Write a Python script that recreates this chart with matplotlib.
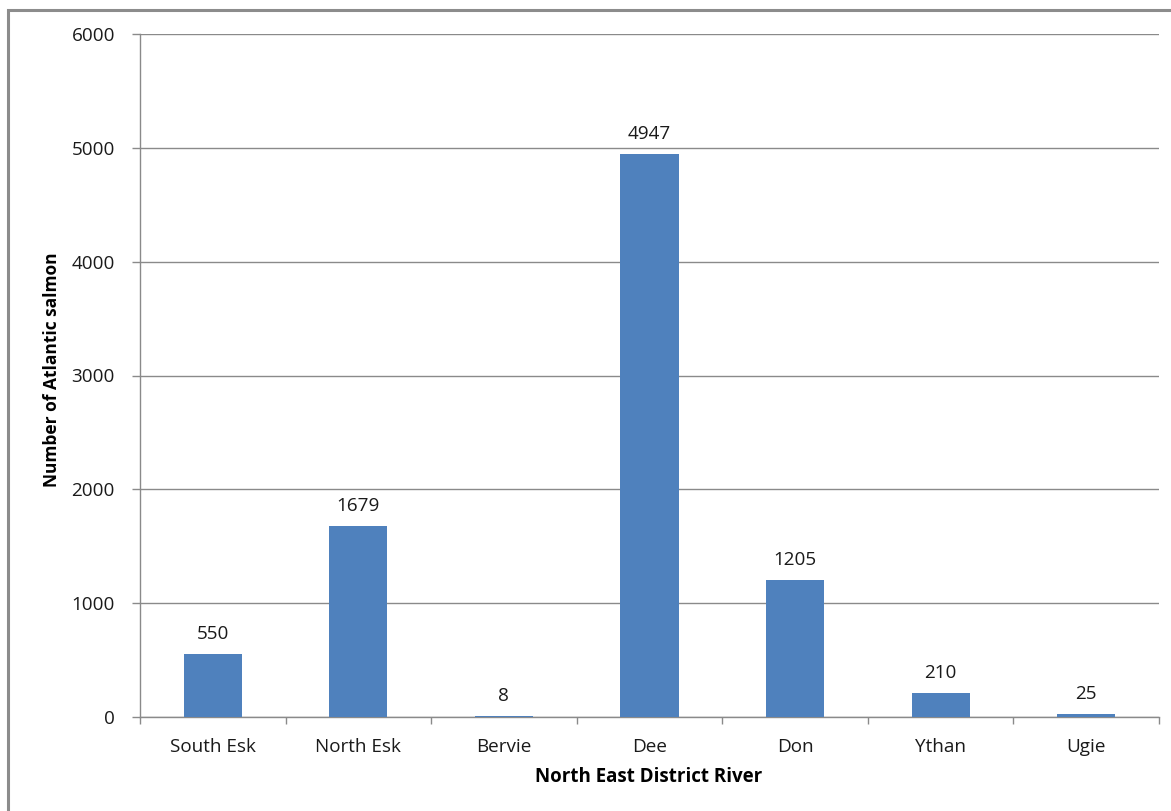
import matplotlib
matplotlib.use("Agg")
import matplotlib.pyplot as plt
from matplotlib.patches import Rectangle
import numpy as np

rivers = ["South Esk", "North Esk", "Bervie", "Dee", "Don", "Ythan", "Ugie"]
salmon_counts = [550, 1679, 8, 4947, 1205, 210, 25]
y_ticks = [0, 1000, 2000, 3000, 4000, 5000, 6000]

plt.rcParams["font.family"] = ["Open Sans", "DejaVu Sans"]

W, H = 1171, 811
fig = plt.figure(figsize=(W / 100, H / 100), dpi=100)

# Chart frame (extends past the right and bottom edges)
fig.patches.append(Rectangle((8 / W, -0.05), 1.1, 1 - 10 / H + 0.05,
                             transform=fig.transFigure, fill=False,
                             edgecolor="#8c8c8c", linewidth=2.2))

ax = fig.add_axes([140 / W, 1 - 717 / H, (1159 - 140) / W, (717 - 34) / H])

grid_col = "#8a8a8a"
txt_col = "#1a1a1a"
fs = 13.6
x = np.arange(len(rivers))
bars = ax.bar(x, salmon_counts, width=0.4, color="#4F81BD", zorder=3)

for xi, v in zip(x, salmon_counts):
    ax.annotate(str(v), (xi, v), xytext=(0, 8), textcoords="offset points",
                ha="center", va="bottom", fontsize=fs, color=txt_col)

ax.set_xlim(-0.5, len(rivers) - 0.5)
ax.set_ylim(0, 6000)
ax.set_yticks(y_ticks)
ax.set_yticklabels([str(t) for t in y_ticks], fontsize=fs, color=txt_col)
ax.yaxis.grid(True, color=grid_col, linewidth=1.0, zorder=0)

ax.set_xticks(x)
ax.set_xticklabels(rivers, fontsize=fs, color=txt_col)
ax.tick_params(axis="x", which="major", length=0, pad=15)
ax.set_xticks(np.arange(-0.5, len(rivers)), minor=True)
ax.tick_params(axis="x", which="minor", length=5, color=grid_col, width=1.0)
ax.tick_params(axis="y", length=6, color=grid_col, width=1.0, pad=12)

for side in ["top", "right"]:
    ax.spines[side].set_visible(False)
for side in ["left", "bottom"]:
    ax.spines[side].set_color(grid_col)
    ax.spines[side].set_linewidth(1.0)

fig.text(52 / W, 1 - 370 / H, "Number of Atlantic salmon", rotation=90,
         ha="center", va="center", fontsize=12.5, fontweight="bold", color="#000000")
fig.text(649 / W, 1 - 777 / H, "North East District River",
         ha="center", va="center", fontsize=13.5, fontweight="bold", color="#000000")

fig.savefig("out.png", dpi=100)
